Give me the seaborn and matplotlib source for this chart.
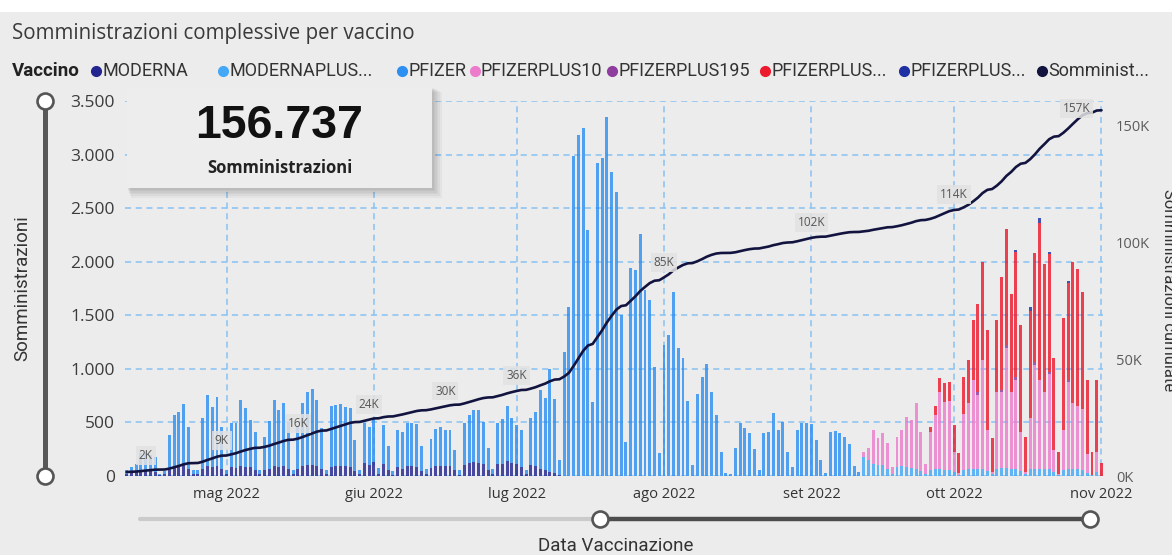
import numpy as np
import pandas as pd
import seaborn as sns
import matplotlib.pyplot as plt
import matplotlib.dates as mdates
from matplotlib.patches import Rectangle
from matplotlib.lines import Line2D

# ---------------- dati ----------------
inizio = "2022-04-10"
fine = "2022-11-01"
totale_kpi = 156737

# somministrazioni giornaliere totali, 10 apr - 11 set
tot_aprile = [60, 80, 110, 210, 220, 200, 180, 20, 50, 380, 570, 595, 675, 460,
              60, 60, 545, 755, 645, 740, 455]
tot_maggio = [60, 495, 495, 710, 635, 525, 412, 55, 367, 515, 710, 620, 682, 500,
              60, 455, 680, 780, 810, 710, 450, 60, 655, 665, 670, 640, 630, 336,
              60, 495, 460]
tot_giugno = [540, 70, 480, 280, 45, 430, 415, 495, 495, 485, 280, 65, 345, 440,
              455, 425, 430, 245, 55, 495, 570, 615, 615, 505, 262, 65, 495, 535,
              650, 545]
tot_luglio = [480, 430, 60, 540, 600, 800, 727, 1000, 720, 150, 1160, 1577, 2990,
              3183, 3245, 2297, 694, 2919, 2965, 3355, 2841, 2655, 1503, 320, 1939,
              1923, 2259, 1736, 1643, 1020, 212]
tot_agosto = [1223, 1316, 1720, 1192, 1098, 703, 103, 765, 927, 1045, 787, 570, 227,
              28, 20, 258, 492, 445, 400, 250, 56, 400, 414, 585, 430, 500, 220, 87,
              430, 492, 492]
tot_settembre = [490, 340, 150, 28, 410, 420, 400, 360, 300, 90, 40]

# quota MODERNA (parte bassa delle barre), 10 apr - 10 lug
moderna = [20, 30, 40, 50, 60, 50, 40, 5, 15,
           60, 80, 90, 100, 70, 15, 15,
           70, 90, 85, 95, 70, 15,
           80, 75, 90, 85, 80, 60, 15,
           60, 70, 95, 85, 90, 70, 15,
           70, 90, 100, 100, 95, 65, 15,
           85, 90, 95, 90, 85, 50, 15,
           120, 100, 130, 15, 110, 60, 10,
           80, 70, 90, 95, 85, 50, 15,
           75, 95, 90, 90, 95, 55, 10,
           100, 120, 130, 125, 110, 55, 15,
           110, 115, 140, 120, 115, 80, 15,
           100, 90, 70, 60, 40, 30, 10]

# 12 set - 1 nov, per vaccino
moderna_plus = [180, 150, 110, 100, 100, 70, 20,
                80, 90, 80, 75, 70, 50, 20,
                60, 70, 70, 60, 60, 40, 10,
                60, 70, 70, 70, 70, 50, 15,
                70, 75, 75, 70, 70, 50, 15,
                70, 70, 70, 70, 70, 40, 10,
                60, 70, 70, 70, 60, 30, 10,
                40, 0]
pfizer_plus10 = [47, 110, 320, 255, 300, 240, 60,
                 287, 343, 474, 448, 608, 365, 90,
                 355, 500, 717, 630, 640, 180, 20,
                 520, 610, 830, 690, 1010, 380, 25,
                 710, 712, 1120, 710, 830, 360, 20,
                 470, 970, 830, 710, 880, 200, 10,
                 370, 810, 610, 580, 570, 180, 0,
                 187, 0]
pfizer_plus195 = [0] * 21 + [0, 0, 0, 20, 0, 0, 0,
                             0, 20, 25, 0, 20, 0, 0,
                             0, 20, 0, 0, 20, 0, 0,
                             0, 20, 0, 0, 0, 0, 0,
                             0, 0]
pfizer_plus_a = [0] * 14 + [45, 85, 125, 175, 180, 256, 183,
                            340, 405, 560, 828, 915, 933, 313,
                            673, 1048, 1083, 923, 1170, 997, 332,
                            1000, 1022, 1460, 1197, 1104, 858, 207,
                            1042, 902, 1320, 1280, 1090, 686, 217,
                            669, 125]
pfizer_plus_b = [0] * 28 + [0, 0, 0, 0, 20, 0, 0,
                            40, 0, 50, 0, 20, 0, 0,
                            0, 20, 0, 0, 0, 0, 0,
                            0, 0]

vaccini = ["MODERNA", "MODERNAPLUS", "PFIZER", "PFIZERPLUS10", "PFIZERPLUS195",
           "PFIZERPLUS_A", "PFIZERPLUS_B"]
etichette_legenda = ["MODERNA", "MODERNAPLUS...", "PFIZER", "PFIZERPLUS10",
                     "PFIZERPLUS195", "PFIZERPLUS...", "PFIZERPLUS...", "Somminist..."]
colori = {"MODERNA": "#23248f", "MODERNAPLUS": "#45a8f7", "PFIZER": "#2d8ff2",
          "PFIZERPLUS10": "#ec7ccb", "PFIZERPLUS195": "#8e3c9e",
          "PFIZERPLUS_A": "#ec1a2e", "PFIZERPLUS_B": "#1f2fa4"}
colore_linea = "#12143f"

date_etichette = ["2022-04-14", "2022-04-30", "2022-05-16", "2022-05-31", "2022-06-16",
                  "2022-07-01", "2022-08-01", "2022-09-01", "2022-10-01", "2022-11-01"]
mesi_it = ["gen", "feb", "mar", "apr", "mag", "giu", "lug", "ago", "set", "ott", "nov", "dic"]

# ---------------- tabella ----------------
giorni = pd.date_range(inizio, fine, freq="D")
wide = pd.DataFrame(0.0, index=giorni, columns=vaccini)
tot_primo = np.array(tot_aprile + tot_maggio + tot_giugno + tot_luglio + tot_agosto + tot_settembre, dtype=float)
k = len(tot_primo)
wide.iloc[:len(moderna), 0] = moderna
wide.iloc[:k, 2] = tot_primo - wide["MODERNA"].values[:k]
wide.iloc[k:, 1] = moderna_plus
wide.iloc[k:, 3] = pfizer_plus10
wide.iloc[k:, 4] = pfizer_plus195
wide.iloc[k:, 5] = pfizer_plus_a
wide.iloc[k:, 6] = pfizer_plus_b

totale = wide.sum(axis=1)
precedenti = totale_kpi - totale.sum()
cumulata = precedenti + totale.cumsum()

lungo = wide.rename_axis("data").reset_index().melt(id_vars="data", var_name="vaccino", value_name="dosi")
lungo["x"] = mdates.date2num(lungo["data"])
xg = mdates.date2num(giorni)

# ---------------- figura ----------------
W, H = 1172, 555
sns.set_theme(style="white")
plt.rcParams["font.family"] = ["Open Sans", "DejaVu Sans"]
NARROW = ["Roboto", "DejaVu Sans"]

fig = plt.figure(figsize=(W / 100, H / 100), dpi=100, facecolor="#ececec")


def fx(x):
    return x / W


def fy(y):
    return 1 - y / H


def rett(x0, y0, x1, y1, **kw):
    r = Rectangle((fx(x0), fy(y1)), (x1 - x0) / W, (y1 - y0) / H,
                  transform=fig.transFigure, **kw)
    fig.add_artist(r)


rett(0, 0, W, 12, fc="white", ec="none", zorder=0.5)

L, R, T, B = 124.5, 1103.4, 101, 476
ax = fig.add_axes([fx(L), fy(B), (R - L) / W, (B - T) / H])
ax.set_facecolor("none")

sns.histplot(data=lungo, x="x", weights="dosi", hue="vaccino",
             hue_order=vaccini[::-1], multiple="stack", discrete=True,
             shrink=0.62, palette=colori, alpha=0.82, linewidth=0,
             legend=False, ax=ax)

ax.set_xlim(xg[0] - 0.45, xg[-1] + 0.4)
ax.set_ylim(0, 3500)
yt = list(range(0, 3501, 500))
ax.set_yticks(yt)
ax.set_yticklabels([f"{v:,}".replace(",", ".") for v in yt])
inizi_mese = pd.date_range("2022-05-01", fine, freq="MS")
ax.set_xticks(mdates.date2num(inizi_mese))
ax.set_xticklabels([f"{mesi_it[d.month - 1]} {d.year}" for d in inizi_mese])
ax.grid(axis="y", color="#88c2f3", linestyle=(0, (4, 3)), linewidth=1.1)
for m in inizi_mese:
    ax.axvline(mdates.date2num(m), color="#88c2f3", linestyle=(0, (4, 3)), linewidth=1.1, zorder=0)
ax.set_axisbelow(True)
ax.set_xlabel("")
ax.set_ylabel("")
ax.tick_params(axis="y", length=0, pad=7, labelsize=12.5, labelcolor="#3c3c3c")
ax.tick_params(axis="x", length=0, pad=8, labelsize=10.5, labelcolor="#333333")
for s in ax.spines.values():
    s.set_visible(False)

ax2 = ax.twinx()
sns.lineplot(x=xg, y=cumulata.values, ax=ax2, color=colore_linea, linewidth=1.9)
ax2.set_ylim(0, 160700)
yt2 = [0, 50000, 100000, 150000]
ax2.set_yticks(yt2)
ax2.set_yticklabels([f"{v // 1000}K" for v in yt2])
ax2.tick_params(axis="y", length=0, pad=9, labelsize=10.5, labelcolor="#5c5c5c")
ax2.grid(False)
ax2.set_xlabel("")
ax2.set_ylabel("")
for s in ax2.spines.values():
    s.set_visible(False)

for i, d in enumerate(date_etichette):
    ts = pd.Timestamp(d)
    v = cumulata.loc[ts]
    off = (-18, 1) if i == len(date_etichette) - 1 else (0, 11)
    ax2.annotate(f"{round(v / 1000)}K", (mdates.date2num(ts), v), xytext=off,
                 textcoords="offset points", ha="center", va="center",
                 fontsize=8.5, color="#555555",
                 bbox=dict(boxstyle="square,pad=0.25", fc="#e2e2e2", ec="none", alpha=0.85))

# titolo e legenda
fig.text(fx(12), fy(33), "Somministrazioni complessive per vaccino", fontsize=14.8,
         color="#3a3a3a", ha="left", va="center")
fig.text(fx(11.5), fy(71), "Vaccino", fontsize=13.5, fontweight="bold", color="#222222",
         ha="left", va="center", family=NARROW)
pos_punti = [95.7, 222.7, 401.8, 474.5, 612, 765, 903.8, 1042]
colori_leg = [colori[v] for v in vaccini] + [colore_linea]
for xp, et, c in zip(pos_punti, etichette_legenda, colori_leg):
    fig.add_artist(Line2D([fx(xp)], [fy(71)], marker="o", markersize=7, color=c,
                          transform=fig.transFigure))
    fig.text(fx(xp + 6.5), fy(71), et, fontsize=13, color="#333333", ha="left",
             va="center", family=NARROW)

# titoli assi
fig.text(fx(22), fy(288), "Somministrazioni", rotation=90, fontsize=13.5, color="#333333",
         ha="center", va="center", family=NARROW)
fig.text(fx(1169), fy(290), "Somministrazioni cumulate", rotation=270, fontsize=12,
         color="#333333", ha="center", va="center", family=NARROW)
fig.text(fx(616), fy(546), "Data Vaccinazione", fontsize=13.5, color="#333333",
         ha="center", va="center", family=NARROW)

# scheda KPI
for i in range(1, 7):
    rett(127 + i * 0.6, 87 + i * 0.8, 432 + i * 1.6, 188 + i * 1.6, fc="black", ec="none",
         alpha=0.035, zorder=2)
rett(127, 87, 432, 188, fc="#ededed", ec="none", zorder=3)
fig.text(fx(279.5), fy(126), f"{totale_kpi:,}".replace(",", "."), fontsize=33.5,
         fontweight="bold", color="#111111", ha="center", va="center",
         family=["Liberation Sans", "DejaVu Sans"], zorder=4)
fig.text(fx(279.5), fy(168), "Somministrazioni", fontsize=12, fontweight="bold",
         color="#222222", ha="center", va="center", zorder=4)

# cursori (slicer)
fig.add_artist(Line2D([fx(45), fx(45)], [fy(101), fy(476)], color="#585858", linewidth=3.6,
                      transform=fig.transFigure, zorder=3))
fig.add_artist(Line2D([fx(140), fx(600)], [fy(519), fy(519)], color="#cbcbcb", linewidth=3,
                      transform=fig.transFigure, zorder=3))
fig.add_artist(Line2D([fx(600), fx(1090)], [fy(519), fy(519)], color="#4d4d4d", linewidth=3.2,
                      transform=fig.transFigure, zorder=3))
for (xp, yp) in [(45, 101), (45, 476), (600, 519), (1090, 519)]:
    fig.add_artist(Line2D([fx(xp)], [fy(yp)], marker="o", markersize=11.5,
                          markerfacecolor="white", markeredgecolor="#555555",
                          markeredgewidth=1.9, transform=fig.transFigure, zorder=4))

fig.savefig("out.png", dpi=100, facecolor=fig.get_facecolor())
